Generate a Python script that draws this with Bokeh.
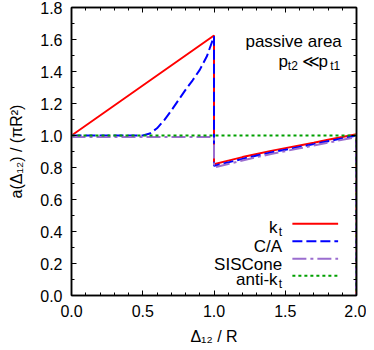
from bokeh.plotting import figure
from bokeh.models import Range1d, LinearAxis, SingleIntervalTicker, PrintfTickFormatter, Label
from bokeh.embed import file_html
from bokeh.resources import INLINE

# ---------------- data ----------------
kt_x = [0.0, 1.0, 1.0, 1.1, 1.2, 1.3, 1.4, 1.5, 1.6, 1.7, 1.8, 1.9, 2.0, 2.0]
kt_y = [1.0, 1.625, 0.82, 0.843, 0.865, 0.885, 0.904, 0.921, 0.938, 0.955, 0.973, 0.99, 1.008, 0.0]

ca_x = [0.0, 0.5, 0.55, 0.6, 0.65, 0.7, 0.75, 0.8, 0.85, 0.9, 0.95, 1.0,
        1.0, 1.1, 1.2, 1.3, 1.4, 1.5, 1.6, 1.7, 1.8, 1.9, 2.0, 2.0]
ca_y = [1.0, 1.0, 1.012, 1.045, 1.095, 1.155, 1.22, 1.285, 1.345, 1.41, 1.495, 1.62,
        0.81, 0.832, 0.854, 0.875, 0.894, 0.911, 0.929, 0.946, 0.964, 0.982, 1.0, 0.0]

sis_x = [0.0, 1.0, 1.0, 1.1, 1.2, 1.3, 1.4, 1.5, 1.6, 1.7, 1.8, 1.9, 2.0, 2.0]
sis_y = [0.99, 0.99, 0.80, 0.822, 0.844, 0.865, 0.884, 0.902, 0.92, 0.937, 0.955, 0.973, 0.99, 0.0]

akt_x = [0.0, 2.0, 2.0]
akt_y = [1.0, 1.0, 0.0]

x_ticks_interval = 0.5
y_ticks_interval = 0.2

series_names = ["k", "C/A", "SISCone", "anti-k"]
series_subs = ["t", "", "", "t"]
colors = ["#ff0000", "#0000ff", "#9b6dcf", "#00a000"]
dashes = ["solid", "10 4", "14 4 3 4", "3 3"]

FONT = "Liberation Sans"
FW, FH = 285, 288

p = figure(frame_width=FW, frame_height=FH, output_backend="svg", toolbar_location=None,
           x_range=Range1d(0, 2), y_range=Range1d(0, 1.8),
           min_border_left=71, min_border_right=10, min_border_top=7, min_border_bottom=47)
p.xgrid.visible = False
p.ygrid.visible = False
p.outline_line_color = "black"
p.outline_line_width = 1.5
p.background_fill_color = "white"
p.border_fill_color = "white"

xt = SingleIntervalTicker(interval=x_ticks_interval, num_minor_ticks=5)
yt = SingleIntervalTicker(interval=y_ticks_interval, num_minor_ticks=2)

def style_axis(ax, show_labels):
    ax.major_tick_in = 5
    ax.major_tick_out = 0
    ax.minor_tick_in = 3
    ax.minor_tick_out = 0
    ax.major_tick_line_color = "black"
    ax.minor_tick_line_color = "black"
    ax.axis_line_color = "black"
    ax.axis_line_width = 1.5
    if show_labels:
        ax.major_label_text_font = FONT
        ax.major_label_text_font_size = "16px"
        ax.major_label_text_color = "black"
        ax.major_label_standoff = 9
        ax.axis_label_text_font = FONT
        ax.axis_label_text_font_size = "16px"
        ax.axis_label_text_font_style = "normal"
        ax.axis_label_text_color = "black"
        ax.formatter = PrintfTickFormatter(format="%.1f")
    else:
        ax.major_label_text_font_size = "0px"
        ax.major_label_text_color = None
        ax.major_label_standoff = 0
        ax.axis_label = None

p.xaxis.ticker = xt
p.yaxis.ticker = yt
style_axis(p.xaxis[0], True)
style_axis(p.yaxis[0], True)
p.xaxis.axis_label = "Δ₁₂ / R"
p.yaxis.axis_label = "a(Δ₁₂) / (πR²)"
p.xaxis.axis_label_standoff = 8
p.yaxis.axis_label_standoff = 12

top = LinearAxis(ticker=xt)
right = LinearAxis(ticker=yt)
style_axis(top, False)
style_axis(right, False)
p.add_layout(top, "above")
p.add_layout(right, "right")

# ---------------- curves ----------------
xs = [kt_x, ca_x, sis_x, akt_x]
ys = [kt_y, ca_y, sis_y, akt_y]
for x, y, c, d in zip(xs, ys, colors, dashes):
    p.line(x, y, line_color=c, line_width=2, line_dash=d)

# ---------------- legend (text left, sample right) ----------------
leg_text_x = 1.478
leg_x0, leg_x1 = 1.550, 1.871
leg_y = [0.449, 0.339, 0.230, 0.124]
LFS = "17px"
for name, sub, c, d, yy in zip(series_names, series_subs, colors, dashes, leg_y):
    p.line([leg_x0, leg_x1], [yy, yy], line_color=c, line_width=2, line_dash=d)
    if sub:
        p.add_layout(Label(x=leg_text_x, y=yy, text=name, text_align="right",
                           text_baseline="alphabetic", x_offset=-4.5, y_offset=-3.5,
                           text_font=FONT, text_font_size=LFS, text_color="black"))
        p.add_layout(Label(x=leg_text_x, y=yy, text=sub, text_align="right",
                           text_baseline="alphabetic", x_offset=0, y_offset=-8.5,
                           text_font=FONT, text_font_size="12px", text_color="black"))
    else:
        p.add_layout(Label(x=leg_text_x, y=yy, text=name, text_align="right",
                           text_baseline="alphabetic", y_offset=-5.5,
                           text_font=FONT, text_font_size=LFS, text_color="black"))

# ---------------- annotation ----------------
p.add_layout(Label(x=1.897, y=1.585, text="passive area", text_align="right",
                   text_baseline="alphabetic", text_font=FONT, text_font_size=LFS,
                   text_color="black"))
ann_x, ann_y = 1.453, 1.4605
pieces = [("p", 0, 0, LFS), ("t2", 9.3, -4, "12px"), ("≪", 23.3, 0, LFS),
          ("p", 40, 0, LFS), ("t1", 51.6, -4, "12px")]
for t, dx, dy, fs in pieces:
    p.add_layout(Label(x=ann_x, y=ann_y, text=t, text_align="left",
                       text_baseline="alphabetic", x_offset=dx, y_offset=dy,
                       text_font=FONT, text_font_size=fs, text_color="black"))

open("out.html", "w").write(file_html(p, INLINE))
